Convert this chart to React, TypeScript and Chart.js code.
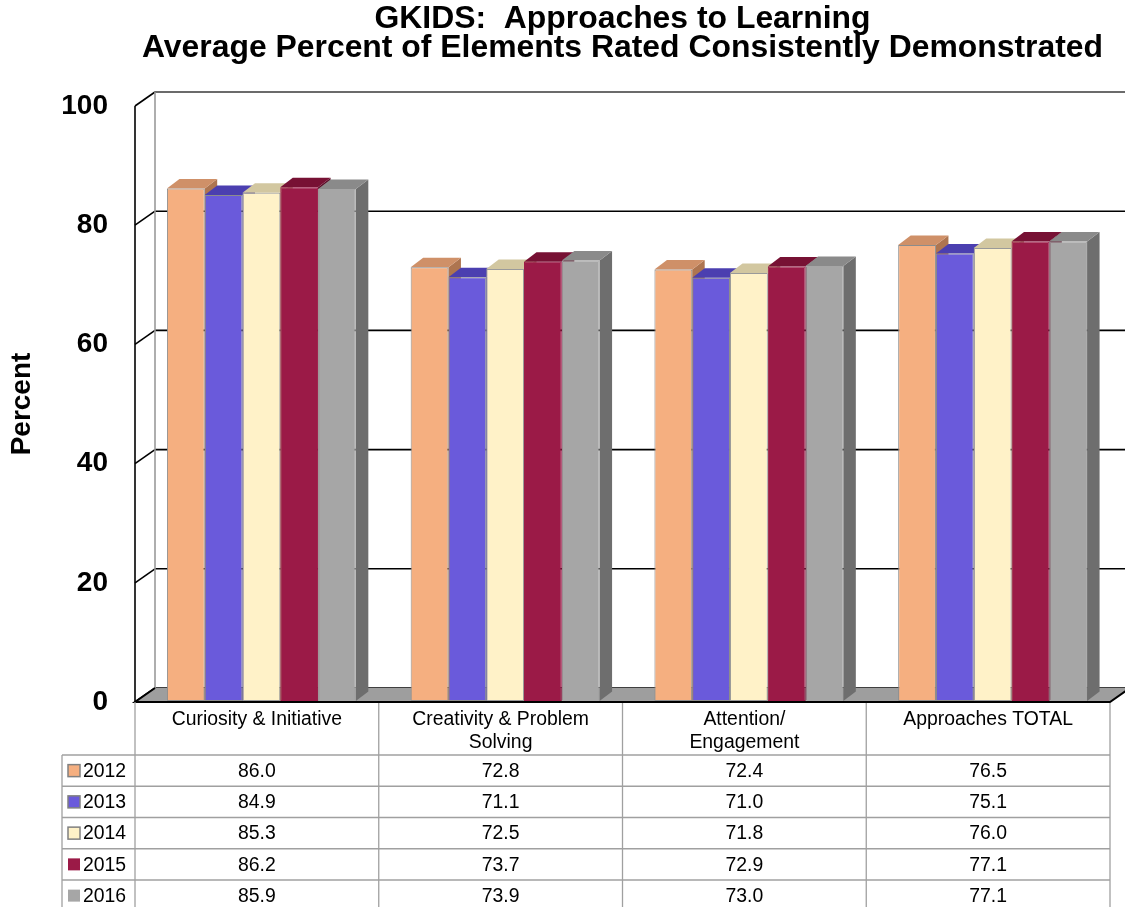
import React, { useEffect, useRef } from "react";
import { Chart, registerables } from "chart.js";

Chart.register(...registerables);

// ---------- data ----------
const categories: string[][] = [
  ["Curiosity & Initiative"],
  ["Creativity & Problem", "Solving"],
  ["Attention/", "Engagement"],
  ["Approaches TOTAL"],
];
const years = ["2012", "2013", "2014", "2015", "2016"];
const values2012 = [86.0, 72.8, 72.4, 76.5];
const values2013 = [84.9, 71.1, 71.0, 75.1];
const values2014 = [85.3, 72.5, 71.8, 76.0];
const values2015 = [86.2, 73.7, 72.9, 77.1];
const values2016 = [85.9, 73.9, 73.0, 77.1];
const seriesValues = [values2012, values2013, values2014, values2015, values2016];
const yTickValues = [0, 20, 40, 60, 80, 100];
const titleLines = [
  "GKIDS:  Approaches to Learning",
  "Average Percent of Elements Rated Consistently Demonstrated",
];
const yAxisTitle = "Percent";

// ---------- styles ----------
const frontColors = ["#F5AF80", "#6A5ADB", "#FFF2C8", "#9B1A47", "#A6A6A6"];
const topColors = ["#CF9068", "#4B3FB0", "#D2C7A0", "#771134", "#8A8A8A"];
const sideColors = ["#AE7550", "#3E3394", "#B3A983", "#5C0C28", "#6E6E6E"];
const borderColors = ["#8C8C8C", "#8C8C8C", "#9A9A9A", "#9B1A47", "#A6A6A6"];

const FONT = "'Liberation Sans', Arial, Helvetica, sans-serif";
const WALL_DX = 20;
const WALL_DY = -14;
const BAR_FX = 4.5;
const BAR_FY = -1;
const BAR_DX = 12.5;
const BAR_DY = -9.5;
const TABLE_FONT = 19.4;
const HEADER_H = 53;
const ROW_H = 31.25;
const LEGEND_LEFT = 62;

function poly(ctx: CanvasRenderingContext2D, pts: number[][], fill: string) {
  ctx.beginPath();
  ctx.moveTo(pts[0][0], pts[0][1]);
  for (let i = 1; i < pts.length; i++) ctx.lineTo(pts[i][0], pts[i][1]);
  ctx.closePath();
  ctx.fillStyle = fill;
  ctx.fill();
}

const scenePlugin = {
  id: "scene3d",
  beforeDatasetsDraw(chart: any) {
    const { ctx, chartArea: a, scales } = chart;
    const y = scales.y;
    const y0 = y.getPixelForValue(0);
    const yTop = y.getPixelForValue(100);
    const farRight = a.right + WALL_DX + 40;
    ctx.save();
    // gridlines on back wall and left wall
    yTickValues.forEach((v) => {
      const py = y.getPixelForValue(v);
      ctx.strokeStyle = v === 100 ? "#3a3a3a" : "#000";
      ctx.lineWidth = 1.6;
      ctx.beginPath();
      ctx.moveTo(a.left + WALL_DX, py + WALL_DY);
      ctx.lineTo(farRight, py + WALL_DY);
      ctx.stroke();
      ctx.strokeStyle = "#000";
      ctx.beginPath();
      ctx.moveTo(a.left, py);
      ctx.lineTo(a.left + WALL_DX, py + WALL_DY);
      ctx.stroke();
    });
    // left wall verticals
    ctx.strokeStyle = "#9a9a9a";
    ctx.lineWidth = 1.6;
    ctx.beginPath();
    ctx.moveTo(a.left + WALL_DX, yTop + WALL_DY);
    ctx.lineTo(a.left + WALL_DX, y0 + WALL_DY);
    ctx.stroke();
    ctx.strokeStyle = "#000";
    ctx.beginPath();
    ctx.moveTo(a.left, yTop);
    ctx.lineTo(a.left, y0);
    ctx.stroke();
    // floor
    poly(
      ctx,
      [
        [a.left, y0],
        [a.right, y0],
        [a.right + WALL_DX, y0 + WALL_DY],
        [a.left + WALL_DX, y0 + WALL_DY],
      ],
      "#9E9E9E"
    );
    ctx.strokeStyle = "#000";
    ctx.lineWidth = 2;
    ctx.beginPath();
    ctx.moveTo(a.left + WALL_DX, y0 + WALL_DY);
    ctx.lineTo(a.left, y0);
    ctx.lineTo(a.right, y0);
    ctx.lineTo(a.right + WALL_DX, y0 + WALL_DY);
    ctx.stroke();

    // side and top faces of every bar, left to right within each cluster
    const metas = years.map((_, i) => chart.getDatasetMeta(i));
    const nCat = categories.length;
    for (let k = 0; k < nCat; k++) {
      for (let i = 0; i < metas.length; i++) {
        const bar = metas[i].data[k];
        if (!bar) continue;
        const p = bar.getProps(["x", "y", "base", "width"], true);
        const l = p.x - p.width / 2 + BAR_FX;
        const r = p.x + p.width / 2 + BAR_FX;
        const t = p.y + BAR_FY;
        const b = p.base + BAR_FY;
        poly(
          ctx,
          [
            [r, t],
            [r + BAR_DX, t + BAR_DY],
            [r + BAR_DX, b + BAR_DY],
            [r, b],
          ],
          sideColors[i]
        );
        poly(
          ctx,
          [
            [l, t],
            [r, t],
            [r + BAR_DX, t + BAR_DY],
            [l + BAR_DX, t + BAR_DY],
          ],
          topColors[i]
        );
      }
    }
    ctx.restore();
  },
  beforeDatasetDraw(chart: any) {
    chart.ctx.save();
    chart.ctx.translate(BAR_FX, BAR_FY);
  },
  afterDatasetDraw(chart: any) {
    chart.ctx.restore();
  },
  afterDraw(chart: any) {
    const { ctx, chartArea: a, scales, height } = chart;
    const x = scales.x;
    const n = categories.length;
    const step = x.getPixelForValue(1) - x.getPixelForValue(0);
    const y0 = a.bottom;
    const hb = y0 + HEADER_H;
    ctx.save();
    ctx.strokeStyle = "#A0A0A0";
    ctx.lineWidth = 1.3;
    for (let k = 0; k <= n; k++) {
      const ex = x.getPixelForValue(0) - step / 2 + k * step;
      ctx.beginPath();
      ctx.moveTo(ex, k === 0 ? y0 : y0 + 1);
      ctx.lineTo(ex, height);
      ctx.stroke();
    }
    ctx.beginPath();
    ctx.moveTo(LEGEND_LEFT, hb);
    ctx.lineTo(LEGEND_LEFT, height);
    ctx.stroke();
    for (let r = 0; r < years.length; r++) {
      const ly = hb + r * ROW_H;
      ctx.beginPath();
      ctx.moveTo(LEGEND_LEFT, ly);
      ctx.lineTo(a.right, ly);
      ctx.stroke();
    }
    ctx.font = `${TABLE_FONT}px ${FONT}`;
    ctx.textBaseline = "middle";
    years.forEach((yr, r) => {
      const cy = hb + (r + 0.5) * ROW_H;
      ctx.fillStyle = frontColors[r];
      ctx.fillRect(LEGEND_LEFT + 6, cy - 6, 12, 12);
      if (borderColors[r] !== frontColors[r]) {
        ctx.strokeStyle = "#808080";
        ctx.lineWidth = 1.5;
        ctx.strokeRect(LEGEND_LEFT + 6, cy - 6, 12, 12);
      }
      ctx.fillStyle = "#000";
      ctx.textAlign = "left";
      ctx.fillText(yr, LEGEND_LEFT + 21, cy + 1);
      ctx.textAlign = "center";
      seriesValues[r].forEach((v, k) => {
        ctx.fillText(v.toFixed(1), x.getPixelForValue(k), cy + 1);
      });
    });
    ctx.restore();
  },
};

export default function App() {
  const canvasRef = useRef<HTMLCanvasElement | null>(null);

  useEffect(() => {
    if (!canvasRef.current) return;
    Chart.defaults.font.family = FONT;
    Chart.defaults.color = "#000";
    const chart = new Chart(canvasRef.current, {
      type: "bar",
      data: {
        labels: categories,
        datasets: years.map((yr, i) => ({
          label: yr,
          data: seriesValues[i],
          backgroundColor: frontColors[i],
          borderColor: borderColors[i],
          borderWidth: 1,
          borderSkipped: false,
          categoryPercentage: 0.775,
          barPercentage: 1.0,
          clip: false as any,
        })),
      },
      options: {
        responsive: false,
        animation: false,
        events: [],
        layout: { padding: { left: 0, right: 15, top: 0, bottom: 0 } },
        plugins: {
          legend: { display: false },
          tooltip: { enabled: false },
          title: {
            display: true,
            text: titleLines,
            fullSize: false,
            color: "#000",
            font: { size: 31.9, weight: "bold", family: FONT, lineHeight: 0.9 },
            padding: { top: 5, bottom: 43.6 },
          },
        },
        scales: {
          x: {
            type: "category",
            offset: true,
            grid: { display: false, drawTicks: false },
            border: { display: false },
            ticks: {
              color: "#000",
              font: { size: TABLE_FONT, family: FONT, lineHeight: 1.186 },
              padding: 6.5,
              maxRotation: 0,
              minRotation: 0,
              autoSkip: false,
            },
            afterFit: (s: any) => {
              s.height = 205;
            },
          },
          y: {
            min: 0,
            max: 100,
            grid: { display: false, drawTicks: false },
            border: { display: false },
            ticks: {
              stepSize: 20,
              color: "#000",
              padding: 27,
              font: { size: 28, weight: "bold", family: FONT },
            },
            title: {
              display: true,
              text: yAxisTitle,
              color: "#000",
              font: { size: 28, weight: "bold", family: FONT },
              padding: { top: 5, bottom: 0 },
            },
            afterFit: (s: any) => {
              s.width = 135;
            },
          },
        },
      },
      plugins: [scenePlugin],
    });
    return () => chart.destroy();
  }, []);

  return (
    <div style={{ position: "absolute", left: 0, top: 0, width: 1125, height: 907, background: "#fff" }}>
      <canvas ref={canvasRef} width={1125} height={907} style={{ display: "block" }} />
    </div>
  );
}
